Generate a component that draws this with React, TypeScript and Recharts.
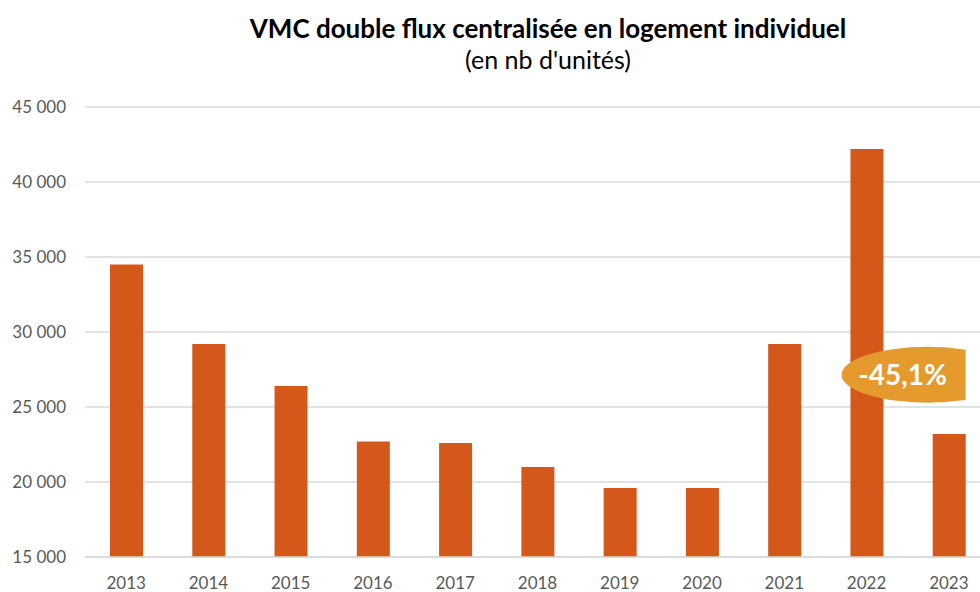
import React from "react";
import { BarChart, Bar, XAxis, YAxis, CartesianGrid, ReferenceDot } from "recharts";

const years = ["2013", "2014", "2015", "2016", "2017", "2018", "2019", "2020", "2021", "2022", "2023"];
const units = [34500, 29200, 26400, 22700, 22600, 21000, 19600, 19600, 29200, 42200, 23200];
const yTicks = [15000, 20000, 25000, 30000, 35000, 40000, 45000];
const titleText = "VMC double flux centralisée en logement individuel";
const subtitleText = "(en nb d'unités)";
const badgeText = "-45,1%";
const badgeYear = "2022";
const badgeLevel = 27150;

const data = years.map((y, i) => ({ year: y, value: units[i] }));

const fmt = (v: number) => String(v).replace(/\B(?=(\d{3})+(?!\d))/g, " ");

const Badge = (props: any) => {
  const { cx, cy } = props;
  if (cx == null || cy == null) return null;
  return (
    <g>
      <defs>
        <clipPath id="badgeClip">
          <rect x={cx - 200} y={cy - 60} width={299} height={120} />
        </clipPath>
      </defs>
      <ellipse cx={cx + 61} cy={cy} rx={86} ry={28} fill="#E49A2C" clipPath="url(#badgeClip)" />
      <text
        x={cx + 36}
        y={cy}
        dy="0.35em"
        textAnchor="middle"
        fill="#FFFFFF"
        fontWeight={700}
        fontSize={28}
        fontFamily="Lato"
      >
        {badgeText}
      </text>
    </g>
  );
};

export default function App() {
  return (
    <div
      style={{
        position: "absolute",
        left: 0,
        top: 0,
        width: 980,
        height: 592,
        overflow: "hidden",
        background: "#FFFFFF",
        fontFamily: "Lato",
      }}
    >
      <BarChart
        width={990}
        height={592}
        data={data}
        margin={{ top: 107, right: 0, left: 0, bottom: 0 }}
      >
        <CartesianGrid vertical={false} stroke="#D9D9D9" strokeWidth={1.3} />
        <XAxis
          dataKey="year"
          height={35}
          axisLine={{ stroke: "#D9D9D9", strokeWidth: 1.3 }}
          tickLine={false}
          tickMargin={14}
          tick={{ fill: "#595959", fontSize: 17, fontFamily: "Lato" }}
          interval={0}
        />
        <YAxis
          width={85}
          domain={[15000, 45000]}
          ticks={yTicks}
          allowDataOverflow
          axisLine={false}
          tickLine={false}
          tickMargin={13}
          tickFormatter={fmt}
          tick={{ fill: "#595959", fontSize: 17, fontFamily: "Lato" }}
        />
        <Bar dataKey="value" fill="#D4581A" barSize={33} isAnimationActive={false} />
        <ReferenceDot
          x={badgeYear}
          y={badgeLevel}
          ifOverflow="visible"
          shape={<Badge />}
        />
      </BarChart>
      <svg
        width={980}
        height={100}
        style={{ position: "absolute", left: 0, top: 0, pointerEvents: "none" }}
      >
        <text x={548} y={38} textAnchor="middle" fontFamily="Lato" fontWeight={700} fontSize={26} fill="#000000">
          {titleText}
        </text>
        <text x={548} y={69} textAnchor="middle" fontFamily="Lato" fontSize={25} fill="#000000">
          {subtitleText}
        </text>
      </svg>
    </div>
  );
}
